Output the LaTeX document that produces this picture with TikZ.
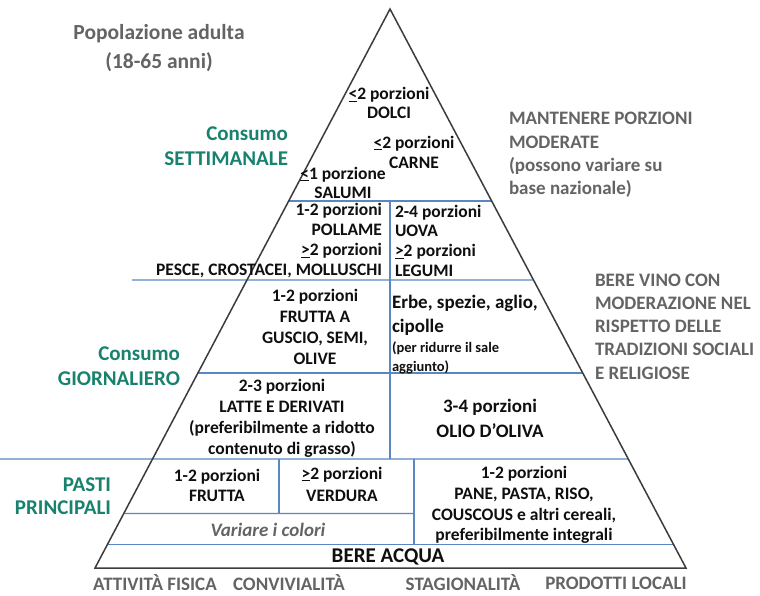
\documentclass[tikz,border=0pt]{standalone}
\usepackage{fontspec}
\setmainfont{Carlito}
\usetikzlibrary{calc}
\definecolor{ink}{RGB}{15,15,15}
\definecolor{greytxt}{RGB}{100,100,100}
\definecolor{tealtxt}{RGB}{25,130,110}
\definecolor{divblue}{RGB}{90,135,195}
\definecolor{edgegrey}{RGB}{60,60,60}
\newcommand{\fsz}[2]{\fontsize{#1}{#2}\selectfont}
\newcommand{\ult}{\underline{<}}
\newcommand{\ugt}{\underline{>}}
\begin{document}
\begin{tikzpicture}[x=1pt,y=-1pt,
  base/.style={inner sep=0pt, outer sep=0pt, align=center},
  cell/.style={base, text=ink, font=\bfseries\fsz{17.5}{20.5}},
  bigcell/.style={base, text=ink, font=\bfseries\fsz{19}{24}},
  side/.style={base, text=greytxt, font=\bfseries\fsz{19}{23.3}, align=left},
  cat/.style={base, text=tealtxt, font=\bfseries\fsz{21}{25}, align=right},
  foot/.style={base, text=greytxt, font=\bfseries\fsz{19}{23}},
  divider/.style={draw=divblue, line width=1.4pt},
  outline/.style={draw=edgegrey, line width=1.5pt, line join=miter}]

\fill[white] (0,0) rectangle (760,595);
\useasboundingbox (0,0) rectangle (760,595);

% pyramid corners
\coordinate (A) at (390,9);
\coordinate (BL) at (95,568);
\coordinate (BR) at (686,568);

% points on the edges
\coordinate (e1l) at ($(A)!0.34347!(BL)$);
\coordinate (e1r) at ($(A)!0.34347!(BR)$);
\coordinate (e2r) at ($(A)!0.48479!(BR)$);
\coordinate (e3l) at ($(A)!0.65116!(BL)$);
\coordinate (e3r) at ($(A)!0.65116!(BR)$);
\coordinate (e4r) at ($(A)!0.80501!(BR)$);
\coordinate (e5l) at ($(A)!0.90250!(BL)$);
\coordinate (e6l) at ($(A)!0.95796!(BL)$);
\coordinate (e6r) at ($(A)!0.95796!(BR)$);
\coordinate (s2) at (132,280);
\coordinate (s4) at (0,459);
\coordinate (v1t) at (390,201);
\coordinate (v1b) at (390,459);
\coordinate (v2t) at (279,459);
\coordinate (v2b) at (279,513.5);
\coordinate (v3t) at (414,459);
\coordinate (v3b) at (414,544.5);
\coordinate (e5r) at (414,513.5);

% blue dividers
\draw[divider] (e1l) -- (e1r);
\draw[divider] (s2) -- (e2r);
\draw[divider] (e3l) -- (e3r);
\draw[divider] (s4) -- (e4r);
\draw[divider] (e5l) -- (e5r);
\draw[divider] (e6l) -- (e6r);
\draw[divider] (v1t) -- (v1b);
\draw[divider] (v2t) -- (v2b);
\draw[divider] (v3t) -- (v3b);

% pyramid outline
\draw[outline] (A) -- (BL) -- (BR) -- cycle;

% outside texts
\node[base, text=greytxt, font=\bfseries\fsz{21.5}{29}] (pop) at (159,48) {Popolazione adulta\\(18-65 anni)};
\node[cat, anchor=east] (sett) at (288,146) {Consumo\\SETTIMANALE};
\node[cat, anchor=east] (giorn) at (180,366) {Consumo\\GIORNALIERO};
\node[cat, anchor=east, font=\bfseries\fsz{21}{23}] (pasti) at (111,496) {PASTI\\PRINCIPALI};
\node[side, anchor=west] (mant) at (509,155) {MANTENERE PORZIONI\\MODERATE\\(possono variare su\\base nazionale)};
\node[side, anchor=west] (vino) at (595,326.5) {BERE VINO CON\\MODERAZIONE NEL\\RISPETTO DELLE\\TRADIZIONI SOCIALI\\E RELIGIOSE};

% top tier
\node[cell, font=\bfseries\fsz{17.5}{19}] (dolci) at (389,103) {\ult2 porzioni\\DOLCI};
\node[cell, font=\bfseries\fsz{17.5}{20}] (carne) at (414,152) {\ult2 porzioni\\CARNE};
\node[cell, font=\bfseries\fsz{17.5}{19}] (salumi) at (343,182.5) {\ult1 porzione\\SALUMI};

% second tier
\node[cell, anchor=east, align=right, font=\bfseries\fsz{17.5}{19.7}] (pollame) at (382,240.5) {1-2 porzioni\\POLLAME\\\ugt2 porzioni\\PESCE, CROSTACEI, MOLLUSCHI};
\node[cell, anchor=west, align=left, font=\bfseries\fsz{17.5}{19.7}] (uova) at (395,240.5) {2-4 porzioni\\UOVA\\\ugt2 porzioni\\LEGUMI};

% third tier
\node[cell, font=\bfseries\fsz{17.5}{21}] (guscio) at (315,326.5) {1-2 porzioni\\FRUTTA A\\GUSCIO, SEMI,\\OLIVE};
\node[bigcell, anchor=west, align=left] (erbe) at (392,315) {Erbe, spezie, aglio,\\cipolle};
\node[base, text=ink, anchor=west, align=left, font=\bfseries\fsz{14.5}{19}] (sale) at (392,357.5) {(per ridurre il sale\\aggiunto)};

% fourth tier
\node[cell, font=\bfseries\fsz{17.5}{21}] (latte) at (282,418.5) {2-3 porzioni\\LATTE E DERIVATI\\(preferibilmente a ridotto\\contenuto di grasso)};
\node[bigcell, font=\bfseries\fsz{19}{25}] (olio) at (490,418.5) {3-4 porzioni\\OLIO D’OLIVA};

% fifth tier
\node[cell, font=\bfseries\fsz{17.5}{20}] (frutta) at (217,485) {1-2 porzioni\\FRUTTA};
\node[cell, font=\bfseries\fsz{17.5}{22}] (verdura) at (342,484) {\ugt2 porzioni\\VERDURA};
\node[base, text=greytxt, font=\bfseries\itshape\fsz{19}{23}] (colori) at (268,530) {Variare i colori};
\node[cell, font=\bfseries\fsz{17.5}{20.7}] (pane) at (524,505) {1-2 porzioni\\PANE, PASTA, RISO,\\COUSCOUS e altri cereali,\\preferibilmente integrali};

% base
\node[base, text=ink, font=\bfseries\fsz{21}{25}] (acqua) at (388,557) {BERE ACQUA};

% footer
\node[foot] (attiv) at (155,583) {ATTIVITÀ FISICA};
\node[foot] (conv) at (289,583) {CONVIVIALITÀ};
\node[foot] (stag) at (463,583) {STAGIONALITÀ};
\node[foot] (prod) at (616,583) {PRODOTTI LOCALI};
\end{tikzpicture}
\end{document}
